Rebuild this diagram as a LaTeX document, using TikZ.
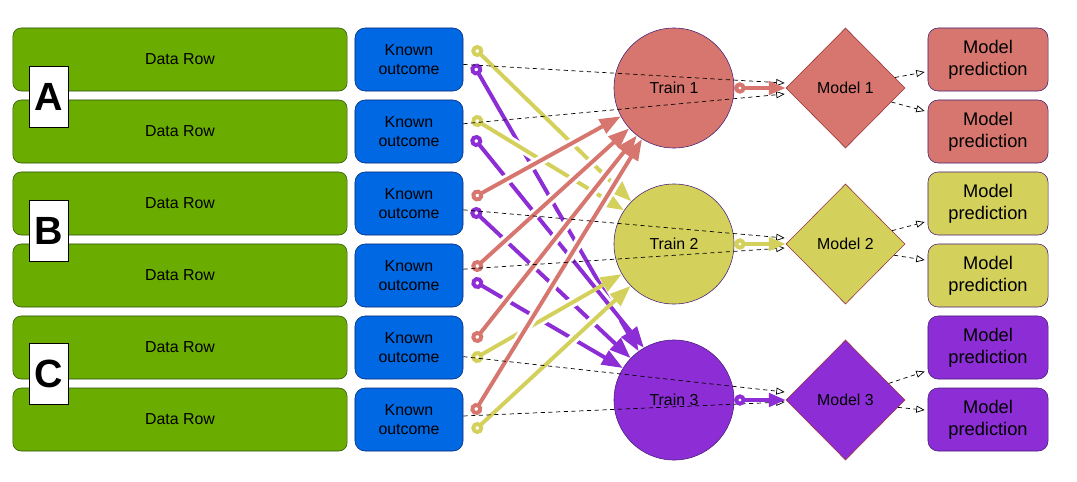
\documentclass[tikz,border=0pt]{standalone}
\usepackage{fontspec}
\setmainfont{Liberation Sans}
\usepackage{tikz}
\usetikzlibrary{positioning,shapes.geometric,arrows.meta}

\definecolor{rowgreen}{RGB}{106,173,0}
\definecolor{rowedge}{RGB}{45,80,10}
\definecolor{knownblue}{RGB}{0,104,226}
\definecolor{knownedge}{RGB}{10,40,120}
\definecolor{foldred}{RGB}{214,118,110}
\definecolor{foldyellow}{RGB}{211,208,92}
\definecolor{foldpurple}{RGB}{141,45,213}
\definecolor{shapeedge}{RGB}{70,30,120}
\definecolor{modeledge}{RGB}{150,50,60}

\begin{document}
\begin{tikzpicture}[x=0.025cm, y=-0.025cm,
    datarow/.style={draw=rowedge, fill=rowgreen, rounded corners=0.2cm, minimum width=8.35cm, minimum height=1.575cm, font=\fontsize{11.3}{13.5}\selectfont},
    known/.style={draw=knownedge, fill=knownblue, rounded corners=0.25cm, minimum width=2.7cm, minimum height=1.575cm, inner sep=1pt, align=center, font=\fontsize{11.3}{13}\selectfont},
    foldbox/.style={draw, fill=white, minimum width=0.98cm, minimum height=1.52cm, inner sep=0pt, font=\fontsize{28}{30}\selectfont\bfseries},
    train/.style={circle, draw=shapeedge, minimum size=3cm, inner sep=0pt, font=\fontsize{11.3}{13}\selectfont},
    model/.style={diamond, draw=modeledge, minimum width=2.975cm, minimum height=3cm, inner sep=0pt, font=\fontsize{11.3}{13}\selectfont},
    pred/.style={draw=shapeedge, rounded corners=0.25cm, minimum width=3cm, minimum height=1.575cm, inner sep=1pt, align=center, font=\fontsize{13}{15.5}\selectfont},
    feed/.style={line width=2.8pt, {Circle[open,length=8.5pt]}-{Triangle[length=15pt,width=11pt]}, shorten <=-4.25pt,
        preaction={draw=white, line width=7pt, arrows=-, shorten <=9pt, shorten >=26pt}},
    fit_arrow/.style={line width=2.8pt, {Circle[open,length=8pt]}-{Triangle[length=12pt,width=9.5pt]}},
    link/.style={dash pattern=on 3pt off 2.5pt, line width=0.5pt, -{Triangle[open,length=6pt,width=5pt]}}]

    \useasboundingbox (0,0) rectangle (1077,481);

    % Righe di dati
    \node[datarow] (row1) at (180,59.5) {Data Row};
    \node[datarow] (row2) at (180,131.5) {Data Row};
    \node[datarow] (row3) at (180,203.5) {Data Row};
    \node[datarow] (row4) at (180,275.5) {Data Row};
    \node[datarow] (row5) at (180,347.5) {Data Row};
    \node[datarow] (row6) at (180,419.5) {Data Row};

    % Etichette dei fold
    \node[foldbox] (fold_a) at (48.5,96.5) {A};
    \node[foldbox] (fold_b) at (48.5,230.5) {B};
    \node[foldbox] (fold_c) at (48.5,374) {C};

    % Esiti noti
    \node[known] (known1) at (409,59.5) {Known\\outcome};
    \node[known] (known2) at (409,131.5) {Known\\outcome};
    \node[known] (known3) at (409,203.5) {Known\\outcome};
    \node[known] (known4) at (409,275.5) {Known\\outcome};
    \node[known] (known5) at (409,347.5) {Known\\outcome};
    \node[known] (known6) at (409,419.5) {Known\\outcome};

    % Addestramento
    \node[train, fill=foldred] (train1) at (674,88) {Train 1};
    \node[train, fill=foldyellow] (train2) at (674,244) {Train 2};
    \node[train, fill=foldpurple] (train3) at (674,400) {Train 3};

    % Modelli
    \node[model, fill=foldred] (model1) at (845.5,88) {Model 1};
    \node[model, fill=foldyellow] (model2) at (845.5,244) {Model 2};
    \node[model, fill=foldpurple] (model3) at (845.5,400) {Model 3};

    % Predizioni
    \node[pred, fill=foldred] (pred1) at (988,59.5) {Model\\prediction};
    \node[pred, fill=foldred] (pred2) at (988,131.5) {Model\\prediction};
    \node[pred, fill=foldyellow] (pred3) at (988,203.5) {Model\\prediction};
    \node[pred, fill=foldyellow] (pred4) at (988,275.5) {Model\\prediction};
    \node[pred, fill=foldpurple] (pred5) at (988,347.5) {Model\\prediction};
    \node[pred, fill=foldpurple] (pred6) at (988,419.5) {Model\\prediction};

    % Frecce verso Train 3 (fold A e B)
    \draw[feed, foldpurple] ([shift={(13,10)}]known1.east) -- (train3.126);
    \draw[feed, foldpurple] ([shift={(13,9.5)}]known2.east) -- (train3.120);
    \draw[feed, foldpurple] ([shift={(13,9.5)}]known3.east) -- (train3.136);
    \draw[feed, foldpurple] ([shift={(14,7.5)}]known4.east) -- (train3.148);

    % Frecce verso Train 2 (fold A e C)
    \draw[feed, foldyellow] ([shift={(14,-8.5)}]known1.east) -- (train2.135);
    \draw[feed, foldyellow] ([shift={(14,-10.5)}]known2.east) -- (train2.146);
    \draw[feed, foldyellow] ([shift={(14,9.5)}]known5.east) -- (train2.210);
    \draw[feed, foldyellow] ([shift={(14,8.5)}]known6.east) -- (train2.224);

    % Frecce verso Train 1 (fold B e C)
    \draw[feed, foldred] ([shift={(14,-8)}]known3.east) -- (train1.208);
    \draw[feed, foldred] ([shift={(14,-9.5)}]known4.east) -- (train1.222);
    \draw[feed, foldred] ([shift={(14,-10.5)}]known5.east) -- (train1.232);
    \draw[feed, foldred] ([shift={(13,-10.5)}]known6.east) -- (train1.238);

    % Esiti noti verso i modelli
    \draw[link] ([yshift=-3.5]known1.east) -- ([shift={(-1,-5)}]model1.west);
    \draw[link] ([yshift=5.5]known2.east) -- ([shift={(-1,6)}]model1.west);
    \draw[link] ([yshift=-4.5]known3.east) -- ([shift={(-1,-6)}]model2.west);
    \draw[link] ([yshift=4.5]known4.east) -- ([shift={(-1,4)}]model2.west);
    \draw[link] ([yshift=-6.5]known5.east) -- ([shift={(-1,-8)}]model3.west);
    \draw[link] ([yshift=2.5]known6.east) -- ([shift={(-1,2)}]model3.west);

    % Addestramento verso modello
    \draw[fit_arrow, foldred] (train1.east) -- (model1.west);
    \draw[fit_arrow, foldyellow] (train2.east) -- (model2.west);
    \draw[fit_arrow, foldpurple] (train3.east) -- (model3.west);

    % Modelli verso predizioni
    \draw[link] (model1.12) -- ([shift={(-3,12.5)}]pred1.west);
    \draw[link] (model1.-17) -- ([shift={(-3,-20.5)}]pred2.west);
    \draw[link] (model2.16) -- ([shift={(-3,18.5)}]pred3.west);
    \draw[link] (model2.-13) -- ([shift={(-3,-15.5)}]pred4.west);
    \draw[link] (model3.21) -- ([shift={(-3,24)}]pred5.west);
    \draw[link] (model3.-8) -- ([shift={(-3,-9.5)}]pred6.west);
\end{tikzpicture}
\end{document}
